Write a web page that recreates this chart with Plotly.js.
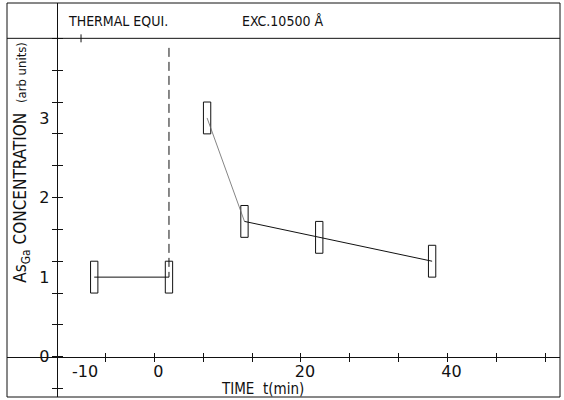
<!DOCTYPE html>
<html>
<head>
<meta charset="utf-8">
<script src="https://cdn.plot.ly/plotly-3.0.1.min.js"></script>
<style>
  html, body { margin: 0; padding: 0; background: #fff; }
  #plot { width: 564px; height: 400px; }
</style>
</head>
<body>
<div id="plot"></div>
<script>
// Measured points: time after switching (min) and As_Ga concentration (arb. units)
const timeMin   = [-8.2, 2.0, 7.2, 12.3, 22.5, 37.9];
const conc      = [1.0, 1.0, 3.0, 1.7, 1.5, 1.2];
const timeErr   = [0.5, 0.5, 0.5, 0.5, 0.5, 0.5];
const concErr   = [0.2, 0.2, 0.2, 0.2, 0.2, 0.2];

// Excitation switched on: dashed marker
const excTime = [2.0, 2.0];
const excConc = [3.88, 1.0];

// Axis labels and tick marks
const xTickVals   = [-10, 0, 20, 40];
const xTickText   = ['-10', '0', '20', '40'];
const xMinorTicks = [-20/3, 0, 20/3, 40/3, 20, 80/3, 100/3, 40, 140/3, 160/3];
const yTickVals   = [0, 1, 2, 3];
const yTickText   = ['0', '1', '2', '3'];
const yMinorTicks = [-0.4, 0, 0.4, 0.8, 1.2, 1.6, 2.0, 2.4, 2.8, 3.2, 3.6, 4.0];

const ink = '#111';
const numFont  = { family: 'DejaVu Sans, sans-serif', size: 16, color: ink };
const textFont = { family: 'DejaVu Sans Condensed, DejaVu Sans, sans-serif', size: 14, color: ink };

const X_RANGE = [-20.1, 55.35];
const Y_RANGE = [-0.506, 4.444];
const X_POS = 0.1023;   // x axis sits at conc = 0
const Y_POS = 0.0897;   // y axis sits left of the data

const seg = (a, b) => ({ x: timeMin.slice(a, b), y: conc.slice(a, b) });

const traces = [
  // before excitation
  Object.assign({ type: 'scatter', mode: 'lines', line: { color: ink, width: 1 }, hoverinfo: 'skip' }, seg(0, 2)),
  // fast drop after excitation
  Object.assign({ type: 'scatter', mode: 'lines', line: { color: '#666', width: 0.8 }, hoverinfo: 'skip' }, seg(2, 4)),
  // slow decay
  Object.assign({ type: 'scatter', mode: 'lines', line: { color: ink, width: 1 }, hoverinfo: 'skip' }, seg(3, 6)),
  // excitation marker
  { type: 'scatter', mode: 'lines', x: excTime, y: excConc,
    line: { color: ink, width: 1, dash: '9px,5px' }, hoverinfo: 'skip' },
  // error boxes
  { type: 'bar', x: timeMin,
    y: concErr.map(e => 2 * e),
    base: conc.map((c, i) => c - concErr[i]),
    width: timeErr.map(e => 2 * e),
    marker: { color: 'rgba(0,0,0,0)', line: { color: ink, width: 1 } },
    hoverinfo: 'skip' },
  // carriers for the crossing tick marks
  { type: 'scatter', mode: 'lines', x: [], y: [], xaxis: 'x2', yaxis: 'y2', hoverinfo: 'skip' },
  { type: 'scatter', mode: 'lines', x: [], y: [], xaxis: 'x3', yaxis: 'y3', hoverinfo: 'skip' }
];

const tickAxisX = (dir) => ({
  overlaying: 'x', anchor: 'free', position: X_POS, range: X_RANGE,
  tickmode: 'array', tickvals: xMinorTicks, ticks: dir, ticklen: 4, tickwidth: 1, tickcolor: ink,
  showticklabels: false, showgrid: false, zeroline: false, showline: false
});
const tickAxisY = (dir) => ({
  overlaying: 'y', anchor: 'free', position: Y_POS, range: Y_RANGE,
  tickmode: 'array', tickvals: yMinorTicks, ticks: dir, ticklen: 5, tickwidth: 1, tickcolor: ink,
  showticklabels: false, showgrid: false, zeroline: false, showline: false
});

const layout = {
  width: 564, height: 400,
  margin: { l: 7, r: 4, t: 3, b: 3 },
  paper_bgcolor: '#fff', plot_bgcolor: '#fff',
  showlegend: false, barmode: 'overlay',
  xaxis: {
    range: X_RANGE, anchor: 'free', position: X_POS,
    tickmode: 'array', tickvals: xTickVals, ticktext: xTickText,
    ticks: '', ticklabelshift: 4, ticklabelstandoff: 0,
    tickfont: numFont, showgrid: false, zeroline: false,
    showline: true, linecolor: ink, linewidth: 1
  },
  yaxis: {
    range: Y_RANGE, anchor: 'free', position: Y_POS,
    tickmode: 'array', tickvals: yTickVals, ticktext: yTickText,
    ticks: '', ticklabelstandoff: 4,
    tickfont: numFont, showgrid: false, zeroline: false,
    showline: true, linecolor: ink, linewidth: 1
  },
  xaxis2: tickAxisX('outside'),
  xaxis3: tickAxisX('inside'),
  yaxis2: tickAxisY('outside'),
  yaxis3: tickAxisY('inside'),
  shapes: [
    // outer frame
    { type: 'rect', xref: 'paper', yref: 'paper', x0: 0, x1: 1, y0: 0, y1: 1,
      line: { color: ink, width: 1 } },
    // header rule
    { type: 'line', xref: 'paper', yref: 'y', x0: 0, x1: 1, y0: 4.0, y1: 4.0,
      line: { color: ink, width: 1 } },
    // tick on the header rule
    { type: 'line', xref: 'x', yref: 'y', x0: -10, x1: -10, y0: 3.95, y1: 4.05,
      line: { color: ink, width: 1 } }
  ],
  annotations: [
    { xref: 'paper', yref: 'paper', x: 0.1058, y: 0.954, xanchor: 'left', yanchor: 'middle',
      text: 'THERMAL EQUI.', showarrow: false, font: textFont },
    { xref: 'paper', yref: 'paper', x: 0.4222, y: 0.954, xanchor: 'left', yanchor: 'middle',
      text: 'EXC.10500 Å', showarrow: false, font: textFont },
    { xref: 'paper', yref: 'paper', x: 0.383, y: 0.0203, xanchor: 'left', yanchor: 'middle',
      text: 'TIME  t(min)', showarrow: false, font: Object.assign({}, textFont, { size: 15 }) },
    { xref: 'paper', yref: 'y', x: 0.027, y: 2.45, xanchor: 'center', yanchor: 'middle',
      textangle: -90, showarrow: false,
      text: 'As<sub>Ga</sub> CONCENTRATION  <span style="font-size:13px">(arb units)</span>',
      font: Object.assign({}, textFont, { size: 17 }) }
  ]
};

Plotly.newPlot('plot', traces, layout, { staticPlot: true, displayModeBar: false });
</script>
</body>
</html>
